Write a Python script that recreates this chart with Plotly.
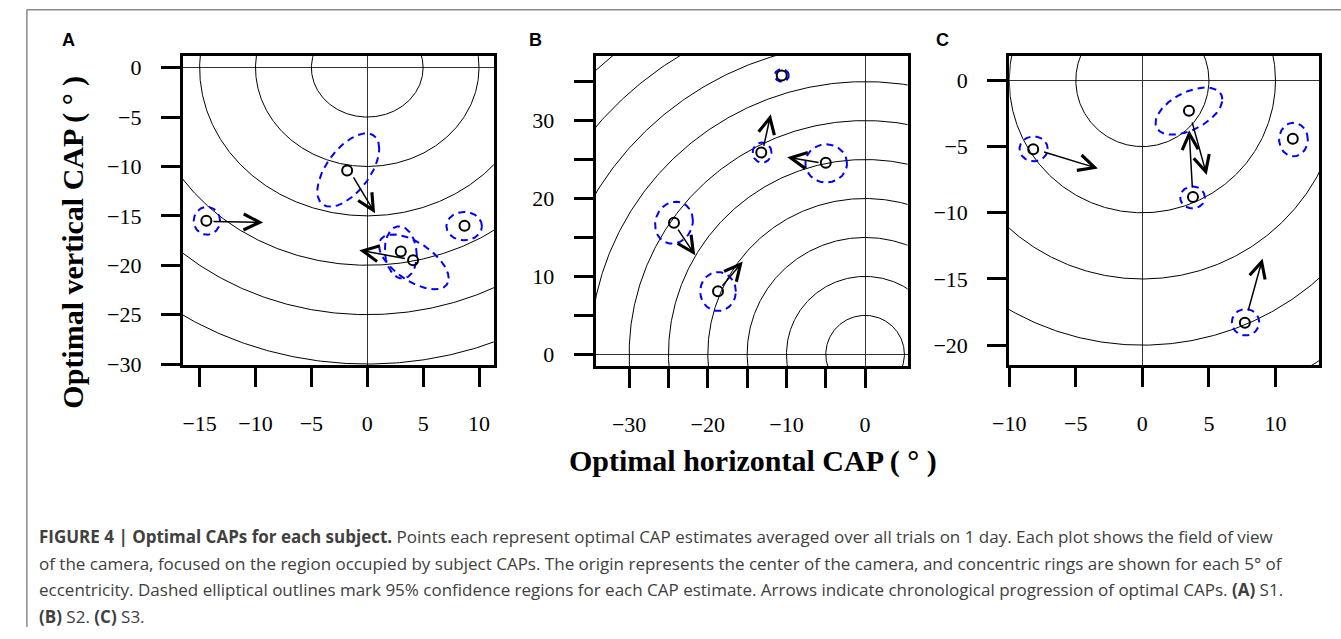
import numpy as np
import plotly.graph_objects as go

W, H = 1341, 639

# ---------------- data ----------------
RING_RADII_A = [5, 10, 15, 20, 25, 30, 35]
RING_RADII_B = [5, 10, 15, 20, 25, 30, 35, 40, 45, 50, 55]
RING_RADII_C = [5, 10, 15, 20, 25, 30]

# Panel A (S1)
A_pts_x = [-1.8, -14.4, 3.0, 4.1, 8.7]
A_pts_y = [-10.4, -15.5, -18.6, -19.5, -16.0]
A_ell_cx = [-1.7, -14.35, 3.0, 4.17, 8.67]
A_ell_cy = [-10.36, -15.5, -18.7, -19.66, -16.04]
A_ell_rx = [2.77, 1.18, 1.43, 3.12, 1.59]
A_ell_ry = [3.71, 1.41, 2.65, 2.78, 1.44]
A_ell_rho = [0.58, 0.0, -0.1, -0.6, 0.0]
A_arr_x0 = [-1.31, -13.9, 3.5]
A_arr_y0 = [-10.95, -15.56, -19.35]
A_arr_x1 = [0.70, -9.32, -0.71]
A_arr_y1 = [-14.73, -15.66, -18.47]
A_xticks = [-15, -10, -5, 0, 5, 10]
A_xlabels = ["−15", "−10", "−5", "0", "5", "10"]
A_yticks = [0, -5, -10, -15, -20, -25, -30]
A_ylabels = ["0", "−5", "−10", "−15", "−20", "−25", "−30"]

# Panel B (S2)
B_pts_x = [-10.6, -13.2, -5.0, -24.3, -18.7]
B_pts_y = [35.8, 25.9, 24.6, 16.9, 8.1]
B_ell_cx = [-10.6, -13.1, -4.95, -24.3, -18.7]
B_ell_cy = [35.8, 25.9, 24.5, 16.9, 8.06]
B_ell_rx = [0.9, 1.2, 2.65, 2.4, 2.27]
B_ell_ry = [0.8, 1.3, 2.45, 2.7, 2.5]
B_ell_rho = [0.0, 0.0, 0.0, 0.1, 0.0]
B_arr_x0 = [-23.9, -18.3, -12.92, -5.73]
B_arr_y0 = [16.2, 8.6, 26.57, 24.6]
B_arr_x1 = [-21.6, -15.56, -12.0, -9.9]
B_arr_y1 = [12.7, 11.9, 30.8, 25.3]
B_xticks = [-30, -25, -20, -15, -10, -5, 0]
B_xlabels = ["−30", "", "−20", "", "−10", "", "0"]
B_yticks = [0, 5, 10, 15, 20, 25, 30, 35]
B_ylabels = ["0", "", "10", "", "20", "", "30", ""]

# Panel C (S3)
C_pts_x = [-8.2, 3.5, 3.8, 11.3, 7.7]
C_pts_y = [-5.2, -2.3, -8.8, -4.4, -18.3]
C_ell_cx = [-8.17, 3.5, 3.77, 11.35, 7.75]
C_ell_cy = [-5.17, -2.32, -8.84, -4.47, -18.27]
C_ell_rx = [1.06, 2.51, 0.93, 1.08, 1.03]
C_ell_ry = [0.94, 1.78, 0.83, 1.27, 1.0]
C_ell_rho = [0.0, 0.5, 0.0, 0.0, 0.0]
C_arr_x0 = [-7.5, 3.71, 3.76, 7.92]
C_arr_y0 = [-5.37, -3.06, -8.2, -17.5]
C_arr_x1 = [-3.34, 4.83, 3.51, 9.03]
C_arr_y1 = [-6.65, -7.14, -3.76, -13.45]
C_xticks = [-10, -5, 0, 5, 10]
C_xlabels = ["−10", "−5", "0", "5", "10"]
C_yticks = [0, -5, -10, -15, -20]
C_ylabels = ["0", "−5", "−10", "−15", "−20"]

panels = [
    dict(letter="A", rings=RING_RADII_A, px=A_pts_x, py=A_pts_y,
         ecx=A_ell_cx, ecy=A_ell_cy, erx=A_ell_rx, ery=A_ell_ry, erho=A_ell_rho,
         ax0=A_arr_x0, ay0=A_arr_y0, ax1=A_arr_x1, ay1=A_arr_y1,
         xt=A_xticks, xl=A_xlabels, yt=A_yticks, yl=A_ylabels,
         xr=[-16.5, 11.33], yr=[-30.1, 1.19],
         dom_x=[168, 483], dom_y=[57, 372], letter_xy=(52, 41)),
    dict(letter="B", rings=RING_RADII_B, px=B_pts_x, py=B_pts_y,
         ecx=B_ell_cx, ecy=B_ell_cy, erx=B_ell_rx, ery=B_ell_ry, erho=B_ell_rho,
         ax0=B_arr_x0, ay0=B_arr_y0, ax1=B_arr_x1, ay1=B_arr_y1,
         xt=B_xticks, xl=B_xlabels, yt=B_yticks, yl=B_ylabels,
         xr=[-34.27, 5.4], yr=[-1.5, 38.3],
         dom_x=[586, 902], dom_y=[57, 373], letter_xy=(525, 41)),
    dict(letter="C", rings=RING_RADII_C, px=C_pts_x, py=C_pts_y,
         ecx=C_ell_cx, ecy=C_ell_cy, erx=C_ell_rx, ery=C_ell_ry, erho=C_ell_rho,
         ax0=C_arr_x0, ay0=C_arr_y0, ax1=C_arr_x1, ay1=C_arr_y1,
         xt=C_xticks, xl=C_xlabels, yt=C_yticks, yl=C_ylabels,
         xr=[-10.0, 13.29], yr=[-21.5, 1.85],
         dom_x=[1005, 1319], dom_y=[57, 372], letter_xy=(937, 41)),
]

fig = go.Figure()
annotations = []
t = np.linspace(0, 2 * np.pi, 721)
SERIF = "Liberation Serif, Times New Roman, serif"
SANS = "Liberation Sans, Arial, sans-serif"
CAPTION_FONT = "Open Sans, Liberation Sans, Arial, sans-serif"

for i, p in enumerate(panels):
    sfx = "" if i == 0 else str(i + 1)
    xa, ya = "x" + sfx, "y" + sfx
    # concentric rings
    for r in p["rings"]:
        fig.add_trace(go.Scatter(x=r * np.cos(t), y=r * np.sin(t), mode="lines",
                                 line=dict(color="black", width=1),
                                 xaxis=xa, yaxis=ya, hoverinfo="skip", showlegend=False))
    # confidence ellipses
    for cx, cy, rx, ry, rho in zip(p["ecx"], p["ecy"], p["erx"], p["ery"], p["erho"]):
        ex = cx + rx * np.cos(t)
        ey = cy + ry * (rho * np.cos(t) + np.sqrt(1 - rho ** 2) * np.sin(t))
        fig.add_trace(go.Scatter(x=ex, y=ey, mode="lines",
                                 line=dict(color="#0000ff", width=2, dash="7px,5px"),
                                 xaxis=xa, yaxis=ya, hoverinfo="skip", showlegend=False))
    # points
    fig.add_trace(go.Scatter(x=p["px"], y=p["py"], mode="markers",
                             marker=dict(symbol="circle-open", size=10, color="black",
                                         line=dict(width=2, color="black")),
                             xaxis=xa, yaxis=ya, showlegend=False))
    # arrows
    for x0, y0, x1, y1 in zip(p["ax0"], p["ay0"], p["ax1"], p["ay1"]):
        annotations.append(dict(x=x1, y=y1, ax=x0, ay=y0, xref=xa, yref=ya,
                                axref=xa, ayref=ya, text="", showarrow=True,
                                arrowhead=5, arrowsize=2.1, arrowwidth=1.5,
                                arrowcolor="black", standoff=0, startstandoff=0))
    # panel letter
    lx, ly = p["letter_xy"]
    annotations.append(dict(x=lx / W, y=1 - ly / H, xref="paper", yref="paper",
                            text="<b>%s</b>" % p["letter"], showarrow=False,
                            font=dict(family=SANS, size=18, color="black"),
                            xanchor="center", yanchor="middle"))

    axis_common = dict(showgrid=False, zeroline=True, zerolinecolor="#333",
                       zerolinewidth=1, showline=True, linecolor="black",
                       linewidth=3, mirror=True, ticks="outside", ticklen=19,
                       tickwidth=3, tickcolor="black", tickmode="array",
                       tickfont=dict(family=SERIF, size=22, color="black"))
    fig.layout["xaxis" + sfx] = dict(
        axis_common, domain=[p["dom_x"][0] / W, p["dom_x"][1] / W],
        range=p["xr"], tickvals=p["xt"], ticktext=p["xl"], anchor=ya,
        ticklabelstandoff=18)
    fig.layout["yaxis" + sfx] = dict(
        axis_common, domain=[1 - p["dom_y"][1] / H, 1 - p["dom_y"][0] / H],
        range=p["yr"], tickvals=p["yt"], ticktext=p["yl"], anchor=xa,
        ticklabelstandoff=15)

# axis titles
annotations.append(dict(x=745 / W, y=1 - 470 / H, xref="paper", yref="paper",
                        text="<b>Optimal horizontal CAP ( ° )</b>", showarrow=False,
                        font=dict(family=SERIF, size=30, color="black"),
                        xanchor="center", yanchor="middle"))
annotations.append(dict(x=57 / W, y=1 - 247 / H, xref="paper", yref="paper",
                        text="<b>Optimal vertical CAP ( ° )</b>", showarrow=False,
                        textangle=-90,
                        font=dict(family=SERIF, size=30, color="black"),
                        xanchor="center", yanchor="middle"))

# caption
caption_lines = [
    "<b>FIGURE 4 | Optimal CAPs for each subject.</b> Points each represent optimal CAP estimates averaged over all trials on 1 day. Each plot shows the field of view",
    "of the camera, focused on the region occupied by subject CAPs. The origin represents the center of the camera, and concentric rings are shown for each 5° of",
    "eccentricity. Dashed elliptical outlines mark 95% confidence regions for each CAP estimate. Arrows indicate chronological progression of optimal CAPs. <b>(A)</b> S1.",
    "<b>(B)</b> S2. <b>(C)</b> S3.",
]
caption_y = [547, 574, 601, 628]
for line, cy in zip(caption_lines, caption_y):
    annotations.append(dict(x=20 / W, y=1 - cy / H, xref="paper", yref="paper",
                            text=line, showarrow=False,
                            font=dict(family=CAPTION_FONT, size=17, color="#404040"),
                            xanchor="left", yanchor="middle"))

fig.update_layout(
    width=W, height=H, margin=dict(l=0, r=0, t=0, b=0),
    paper_bgcolor="white", plot_bgcolor="white",
    annotations=annotations, showlegend=False,
    shapes=[
        dict(type="line", xref="paper", yref="paper", x0=10 / W, x1=1, y0=1 - 10 / H, y1=1 - 10 / H,
             line=dict(color="#8a8a8a", width=1.5)),
        dict(type="line", xref="paper", yref="paper", x0=10 / W, x1=10 / W, y0=0, y1=1 - 10 / H,
             line=dict(color="#8a8a8a", width=1.5)),
    ],
)

fig.write_html("out.html")
